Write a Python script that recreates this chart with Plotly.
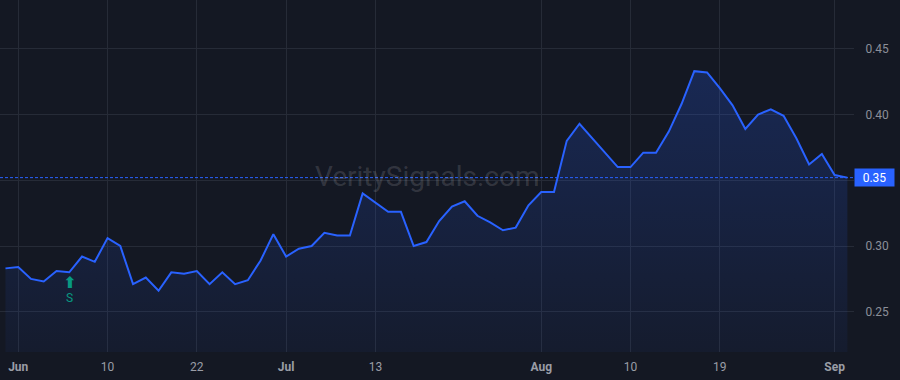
import plotly.graph_objects as go

# ---- data ----
values = [
    0.283, 0.284, 0.275, 0.273, 0.281, 0.280, 0.292, 0.288, 0.306, 0.300,
    0.271, 0.276, 0.266, 0.280, 0.279, 0.281, 0.271, 0.280, 0.271, 0.274,
    0.289, 0.309, 0.292, 0.298, 0.300, 0.310, 0.308, 0.308, 0.340, 0.333,
    0.326, 0.326, 0.300, 0.303, 0.319, 0.330, 0.334, 0.323, 0.318, 0.312,
    0.314, 0.331, 0.341, 0.341, 0.380, 0.393, 0.382, 0.371, 0.360, 0.360,
    0.371, 0.371, 0.387, 0.408, 0.433, 0.432, 0.420, 0.407, 0.389, 0.400,
    0.404, 0.399, 0.382, 0.362, 0.370, 0.354, 0.352,
]
idx = list(range(len(values)))
tick_idx = [1, 8, 15, 22, 29, 42, 49, 56, 65]
tick_text = ["<b>Jun</b>", "10", "22", "<b>Jul</b>", "13", "<b>Aug</b>", "10", "19", "<b>Sep</b>"]
y_ticks = [0.25, 0.30, 0.35, 0.40, 0.45]
signal_idx = 5
signal_label = "S"
last_label = f"{values[-1]:.2f}"
watermark = "VeritySignals.com"

# y tick text: the tick hidden under the last-value badge is left blank
y_tick_text = ["" if f"{v:.2f}" == last_label else f"{v:.2f}" for v in y_ticks]

BG = "#141823"
GRID = "#262b37"
BLUE = "#2962ff"
TEAL = "#089981"
TXT = "#8b8f99"

y_range = [0.2194, 0.4871]

fig = go.Figure()
fig.add_trace(go.Scatter(
    x=idx, y=values, mode="lines",
    line=dict(color=BLUE, width=2),
    fill="tozeroy",
    fillgradient=dict(
        type="vertical",
        start=y_range[0], stop=max(values),
        colorscale=[[0, "rgba(41,98,255,0.05)"], [1, "rgba(41,98,255,0.22)"]],
    ),
    hoverinfo="skip", showlegend=False,
))

# dotted last-value line
fig.add_shape(type="line", xref="paper", x0=0, x1=1, yref="y",
              y0=values[-1], y1=values[-1],
              line=dict(color=BLUE, width=1, dash="3px,2px"))

# last value label
fig.add_annotation(xref="paper", x=1, y=values[-1], yref="y",
                   xanchor="left", yanchor="middle", text=last_label,
                   showarrow=False, bgcolor=BLUE, borderpad=0,
                   width=39, height=17, align="center", valign="middle",
                   font=dict(color="white", size=12, family="Roboto"))

# signal arrow + label
fig.add_annotation(x=signal_idx, y=values[signal_idx], text="<b>\u2B06</b>",
                   showarrow=False, yshift=-10,
                   font=dict(color=TEAL, size=16, family="DejaVu Sans"))
fig.add_annotation(x=signal_idx, y=values[signal_idx], text=signal_label,
                   showarrow=False, yshift=-26,
                   font=dict(color=TEAL, size=12, family="Roboto"))

# watermark
fig.add_annotation(xref="paper", yref="paper", x=0.5, y=0.5, text=watermark,
                   showarrow=False,
                   font=dict(size=28, color="rgba(255,255,255,0.14)", family="Roboto"))

fig.update_layout(
    width=900, height=380,
    margin=dict(l=0, r=46, t=0, b=28),
    paper_bgcolor=BG, plot_bgcolor=BG,
    font=dict(family="Roboto", color=TXT, size=12),
    xaxis=dict(
        range=[-0.43, 66.52], tickvals=tick_idx, ticktext=tick_text,
        showgrid=True, gridcolor=GRID, gridwidth=1, zeroline=False,
        showline=False, ticks="outside", ticklen=4, tickcolor="rgba(0,0,0,0)",
        tickfont=dict(size=12, color="#9a9da6"),
    ),
    yaxis=dict(
        range=y_range, side="right", tickvals=y_ticks, ticktext=y_tick_text,
        showgrid=True, gridcolor=GRID, gridwidth=1, zeroline=False,
        showline=False, ticks="outside", ticklen=8, tickcolor="rgba(0,0,0,0)",
        tickfont=dict(size=12, color=TXT),
    ),
)

fig.write_html("out.html")
